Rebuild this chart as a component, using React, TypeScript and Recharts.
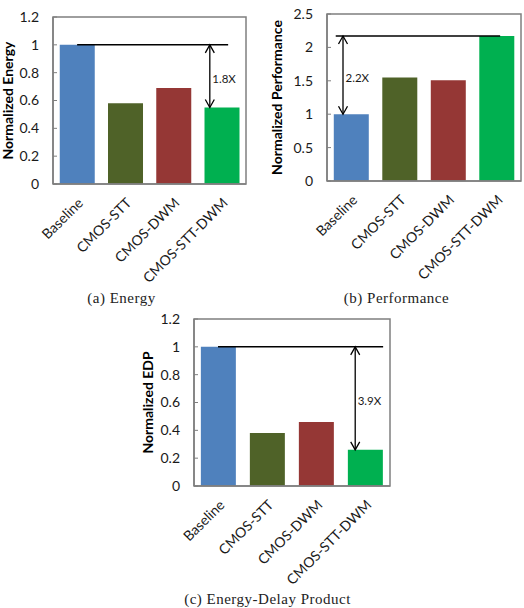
import { BarChart, Bar, XAxis, YAxis, Cell, ReferenceLine } from 'recharts';

const categories = ['Baseline', 'CMOS-STT', 'CMOS-DWM', 'CMOS-STT-DWM'];
const energyValues = [1.0, 0.58, 0.69, 0.55];
const performanceValues = [1.0, 1.55, 1.51, 2.17];
const edpValues = [1.0, 0.38, 0.46, 0.26];

const energyTicks = [0, 0.2, 0.4, 0.6, 0.8, 1, 1.2];
const performanceTicks = [0, 0.5, 1, 1.5, 2, 2.5];
const edpTicks = [0, 0.2, 0.4, 0.6, 0.8, 1, 1.2];

const gainLabels = ['1.8X', '2.2X', '3.9X'];
const captions = ['(a) Energy', '(b) Performance', '(c) Energy-Delay Product'];

const barColors = ['#4F81BD', '#4F6228', '#953735', '#00B050'];
const axisGray = '#7F7F7F';
const font = 'Lato, "Open Sans", sans-serif';

const XTick = (props: any) => {
    const { x, y, payload } = props;
    const ax = x + 3;
    const ay = y + 16;
    return (
        <text x={ax} y={ay} transform={`rotate(-45, ${ax}, ${ay})`} textAnchor="end" dominantBaseline="central"
            fontFamily={font} fontSize={14} fill="#1a1a1a">
            {payload.value}
        </text>
    );
};

// vertical double-headed arrow with the gain text next to it
const arrowShape = (text: string) => (props: any) => {
    const { x1, y1, x2, y2 } = props;
    const top = Math.min(y1, y2);
    const bot = Math.max(y1, y2);
    return (
        <g>
            <line x1={x1} y1={top} x2={x2} y2={bot} stroke="#000" strokeWidth={1.3} />
            <polyline points={`${x1 - 4.5},${top + 8} ${x1},${top} ${x1 + 4.5},${top + 8}`} fill="none" stroke="#000" strokeWidth={1.3} />
            <polyline points={`${x1 - 4.5},${bot - 8} ${x1},${bot} ${x1 + 4.5},${bot - 8}`} fill="none" stroke="#000" strokeWidth={1.3} />
            <text x={x1 + 2.5} y={(top + bot) / 2 + 2} dominantBaseline="central" fontFamily={font} fontSize={11.5} fill="#1a1a1a">{text}</text>
        </g>
    );
};

// plot frame drawn from the diagonal of the full domain
const frameShape = (props: any) => {
    const { x1, y1, x2, y2 } = props;
    return (
        <rect x={Math.min(x1, x2)} y={Math.min(y1, y2)} width={Math.abs(x2 - x1)} height={Math.abs(y2 - y1)}
            fill="none" stroke={axisGray} strokeWidth={1.5} />
    );
};

interface PanelProps {
    values: number[];
    ticks: number[];
    title: string;
    width: number;
    height: number;
    margin: { top: number; right: number; left: number; bottom: number };
    yAxisWidth: number;
    titleX: number;
    hLine: [number, number, number];
    arrow: [number, number, number];
    gain: string;
}

const Panel = ({ values, ticks, title, width, height, margin, yAxisWidth, titleX, hLine, arrow, gain }: PanelProps) => {
    // pos = centre of each category on a 0..4 numeric scale, used for the annotations
    const data = categories.map((name, i) => ({ name, pos: i + 0.5, value: values[i] }));
    const top = ticks[ticks.length - 1];
    return (
        <BarChart width={width} height={height} data={data} margin={margin} barCategoryGap="14%">
            <XAxis dataKey="name" tick={<XTick />} tickLine={false} tickSize={0} tickMargin={0} interval={0}
                height={height - margin.top - margin.bottom - 167} axisLine={{ stroke: axisGray, strokeWidth: 1.5 }} />
            <XAxis xAxisId="n" dataKey="pos" type="number" domain={[0, 4]} allowDataOverflow hide />
            <YAxis domain={[0, top]} ticks={ticks} width={yAxisWidth} tickSize={-4} tickMargin={18}
                tickLine={{ stroke: axisGray }}
                axisLine={{ stroke: axisGray, strokeWidth: 1.5 }} tick={{ fontFamily: font, fontSize: 14, fill: '#1a1a1a' }}
                label={{ value: title, angle: -90, position: 'insideLeft', offset: titleX,
                    style: { textAnchor: 'middle', fontFamily: font, fontSize: 14, fontWeight: 700, fill: '#000' } }} />
            <ReferenceLine xAxisId="n" segment={[{ x: 0, y: 0 }, { x: 4, y: top }]} shape={frameShape} ifOverflow="visible" />
            <Bar dataKey="value" isAnimationActive={false}>
                {data.map((_, i) => (
                    <Cell key={`c-${i}`} fill={barColors[i]} />
                ))}
            </Bar>
            <ReferenceLine xAxisId="n" segment={[{ x: hLine[0], y: hLine[2] }, { x: hLine[1], y: hLine[2] }]}
                stroke="#000" strokeWidth={1.5} ifOverflow="visible" />
            <ReferenceLine xAxisId="n" segment={[{ x: arrow[0], y: arrow[1] }, { x: arrow[0], y: arrow[2] }]}
                shape={arrowShape(gain)} ifOverflow="visible" />
        </BarChart>
    );
};

export default function App() {
    return (
        <div style={{ position: 'absolute', left: 0, top: 0, width: 524, height: 608, background: '#fff', overflow: 'hidden' }}>
            <svg width={524} height={608} style={{ position: 'absolute', left: 0, top: 0 }}>
                <g fontFamily='"Liberation Serif", serif' fontSize={15} letterSpacing={0.5} fill="#222" textAnchor="middle">
                    <text x={121.5} y={303}>{captions[0]}</text>
                    <text x={396.5} y={303}>{captions[1]}</text>
                    <text x={267.5} y={604}>{captions[2]}</text>
                </g>
            </svg>
            <div style={{ position: 'absolute', left: 0, top: 0 }}>
                <Panel values={energyValues} ticks={energyTicks} title="Normalized Energy" width={262} height={290}
                    margin={{ top: 17, right: 16, left: 0, bottom: 0 }} yAxisWidth={53} titleX={8}
                    hLine={[0.5, 3.63, energyValues[0]]} arrow={[3.25, energyValues[0], energyValues[3]]} gain={gainLabels[0]} />
            </div>
            <div style={{ position: 'absolute', left: 262, top: 0 }}>
                <Panel values={performanceValues} ticks={performanceTicks} title="Normalized Performance" width={262} height={290}
                    margin={{ top: 14, right: 3, left: 0, bottom: 0 }} yAxisWidth={65} titleX={15}
                    hLine={[0.18, 3.57, performanceValues[3]]} arrow={[0.33, performanceValues[3], performanceValues[0]]} gain={gainLabels[1]} />
            </div>
            <div style={{ position: 'absolute', left: 120, top: 300 }}>
                <Panel values={edpValues} ticks={edpTicks} title="Normalized EDP" width={290} height={290}
                    margin={{ top: 19, right: 20, left: 0, bottom: 0 }} yAxisWidth={74} titleX={28}
                    hLine={[0.49, 3.86, edpValues[0]]} arrow={[3.29, edpValues[0], edpValues[3]]} gain={gainLabels[2]} />
            </div>
        </div>
    );
}
